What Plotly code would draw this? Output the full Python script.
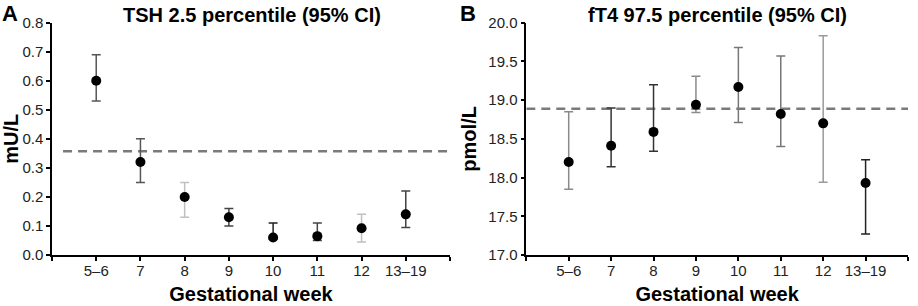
import plotly.graph_objects as go

W, H = 918, 306

# ---- data ----
weeks = ["5–6", "7", "8", "9", "10", "11", "12", "13–19"]

tsh_p25 = [0.60, 0.32, 0.20, 0.13, 0.06, 0.065, 0.092, 0.14]
tsh_hi = [0.69, 0.40, 0.25, 0.16, 0.11, 0.11, 0.14, 0.22]
tsh_lo = [0.53, 0.25, 0.13, 0.10, 0.055, 0.05, 0.045, 0.095]
tsh_ref = 0.357

ft4_p975 = [18.20, 18.41, 18.59, 18.94, 19.17, 18.82, 18.70, 17.93]
ft4_hi = [18.85, 18.90, 19.20, 19.31, 19.68, 19.57, 19.83, 18.23]
ft4_lo = [17.85, 18.14, 18.34, 18.84, 18.71, 18.40, 17.94, 17.27]
ft4_ref = 18.89

tsh_err_colors = ["#555555", "#555555", "#c0c0c0", "#444444", "#222222", "#444444", "#c0c0c0", "#444444"]
ft4_err_colors = ["#8a8a8a", "#333333", "#333333", "#8a8a8a", "#777777", "#777777", "#9a9a9a", "#222222"]

FONT = "Liberation Sans, Arial, sans-serif"

fig = go.Figure()
xpos = list(range(1, len(weeks) + 1))


def add_panel(vals, hi, lo, colors, xa, ya):
    for i, (v, h, l, c) in enumerate(zip(vals, hi, lo, colors)):
        fig.add_trace(go.Scatter(
            x=[xpos[i]], y=[v], mode="markers",
            marker=dict(color="black", size=10),
            error_y=dict(type="data", symmetric=False, array=[h - v], arrayminus=[v - l],
                         color=c, thickness=1.5, width=4.5),
            xaxis=xa, yaxis=ya, showlegend=False, hoverinfo="skip"))


add_panel(tsh_p25, tsh_hi, tsh_lo, tsh_err_colors, "x", "y")
add_panel(ft4_p975, ft4_hi, ft4_lo, ft4_err_colors, "x2", "y2")

# reference dashed lines
fig.add_shape(type="line", xref="x", yref="y", x0=0.25, x1=9, y0=tsh_ref, y1=tsh_ref,
              line=dict(color="#7a7a7a", width=2.5, dash="9px,6px"), layer="below")
fig.add_shape(type="line", xref="x2", yref="y2", x0=0, x1=9, y0=ft4_ref, y1=ft4_ref,
              line=dict(color="#7a7a7a", width=2.5, dash="9px,6px"), layer="below")

ybot, ytop = 1 - 255 / H, 1 - 22.7 / H
tickvals_x = [0] + xpos + [9]
ticktext_x = [""] + weeks + [""]

axcommon = dict(showline=True, linecolor="black", linewidth=1.5, ticks="outside", ticklen=4,
                tickwidth=1.5, tickcolor="black", showgrid=False, zeroline=False, automargin=False,
                tickfont=dict(family=FONT, size=15, color="#222222"))
titlefont = dict(family=FONT, size=20, color="black")

fig.update_layout(
    width=W, height=H, margin=dict(l=0, r=0, t=0, b=0, autoexpand=False),
    paper_bgcolor="white", plot_bgcolor="white",
    xaxis=dict(domain=[52 / W, 450 / W], range=[0, 9], tickvals=tickvals_x, ticktext=ticktext_x,
               anchor="y", ticklabelstandoff=-3,
               title=dict(text="<b>Gestational week</b>", font=titlefont, standoff=9),
               **axcommon),
    yaxis=dict(domain=[ybot, ytop], range=[0, 0.8], tickvals=[i / 10 for i in range(9)],
               tickformat=".1f", anchor="x",
               title=dict(text="<b>mU/L</b>", font=titlefont, standoff=8), **axcommon),
    xaxis2=dict(domain=[526.3 / W, 908 / W], range=[0, 9], tickvals=tickvals_x, ticktext=ticktext_x,
                anchor="y2", ticklabelstandoff=-3,
                title=dict(text="<b>Gestational week</b>", font=titlefont, standoff=9),
                **axcommon),
    yaxis2=dict(domain=[ybot, ytop], range=[17, 20], tickvals=[17 + 0.5 * i for i in range(7)],
                tickformat=".1f", anchor="x2",
                title=dict(text="<b>pmol/L</b>", font=titlefont, standoff=6), **axcommon),
)


def ann(text, x, y, size=20, xanchor="center"):
    fig.add_annotation(text=f"<b>{text}</b>", x=x / W, y=1 - y / H, xref="paper", yref="paper",
                       showarrow=False, xanchor=xanchor, yanchor="middle",
                       font=dict(family=FONT, size=size, color="black"))


ann("TSH 2.5 percentile (95% CI)", 252, 15)
ann("fT4 97.5 percentile (95% CI)", 717, 15)
ann("A", 0, 14, size=22, xanchor="left")
ann("B", 458, 14, size=22, xanchor="left")

fig.write_html("out.html")
